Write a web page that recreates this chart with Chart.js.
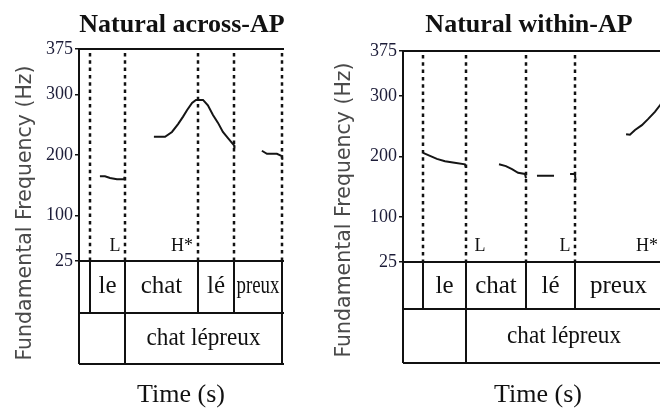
<!DOCTYPE html>
<html><head><meta charset="utf-8">
<script src="https://cdn.jsdelivr.net/npm/chart.js@4.4.0/dist/chart.umd.min.js"></script>
<style>
html,body{margin:0;padding:0;background:#fff;}
#wrap{position:relative;width:660px;height:408px;overflow:hidden;background:#fff;}
#c1{position:absolute;left:0;top:0;}
#c2{position:absolute;left:330px;top:0;}
</style></head><body>
<div id="wrap">
<canvas id="c1" width="330" height="408"></canvas>
<canvas id="c2" width="335" height="408"></canvas>
</div>
<script>
// ---------- data ----------
const yTicks = [25, 100, 200, 300, 375];

// Panel 1: Natural across-AP (time in s)
const acrossTitle = 'Natural across-AP';
const acrossBounds = [0.054, 0.227, 0.586, 0.764, 1.000];
const acrossWords = ['le', 'chat', 'lé', 'preux'];
const acrossPhrase = 'chat lépreux';
const acrossTones = ['L', 'H*'];
const acrossToneTimes = [0.175, 0.505];
const acrossT  = [0.103,0.128,0.153,0.187,0.222,0.224, 0.30,
                  0.369,0.424,0.458,0.488,0.512,0.532,0.557,0.576,0.611,0.635,0.660,0.685,0.709,0.734,0.764,0.766, 0.83,
                  0.901,0.926,0.975,1.000,1.002];
const acrossHz = [165,165,162,160,160,164, null,
                  230,230,238,251,263,274,286,291,291,282,266,253,238,228,216,211, null,
                  207,202,202,198,192];

// Panel 2: Natural within-AP
const withinTitle = 'Natural within-AP';
const withinBounds = [0.099, 0.309, 0.604, 0.847, 1.276];
const withinWords = ['le', 'chat', 'lé', 'preux'];
const withinPhrase = 'chat lépreux';
const withinTones = ['L', 'L', 'H*'];
const withinToneTimes = [0.379, 0.796, 1.200];
const withinT  = [0.099,0.133,0.167,0.207,0.246,0.305,0.310, 0.40,
                  0.473,0.507,0.537,0.567,0.601,0.606, 0.63,
                  0.660,0.744, 0.78,
                  0.823,0.847,0.850, 0.97,
                  1.099,1.118,1.143,1.177,1.207,1.241,1.266,1.276];
const withinHz = [206,201,196,192,190,187,182, null,
                  187,184,179,173,171,164, null,
                  168,168, null,
                  171,171,161, null,
                  237,236,244,252,262,274,285,290];

// ---------- drawing ----------
function makePanel(canvas, d, lay) {
  const points = d.T.map((t, i) => ({x: t, y: d.Hz[i]}));
  const panelPlugin = {
    id: 'panel',
    beforeDatasetsDraw(chart) {
      const ctx = chart.ctx, xs = chart.scales.x, a = chart.chartArea;
      ctx.save();
      ctx.strokeStyle = '#111'; ctx.lineWidth = 2.5; ctx.setLineDash([3.5, 3.8]);
      d.bounds.forEach(b => {
        const px = Math.round(xs.getPixelForValue(b));
        ctx.beginPath(); ctx.moveTo(px, a.top + 4); ctx.lineTo(px, a.bottom); ctx.stroke();
      });
      ctx.restore();
    },
    afterDraw(chart) {
      const ctx = chart.ctx, xs = chart.scales.x, a = chart.chartArea;
      const L = a.left, R = a.right;
      const px = v => Math.round(xs.getPixelForValue(v));
      ctx.save();
      ctx.strokeStyle = '#111'; ctx.lineWidth = 2; ctx.setLineDash([]);
      const line = (x1, y1, x2, y2) => { ctx.beginPath(); ctx.moveTo(x1, y1); ctx.lineTo(x2, y2); ctx.stroke(); };
      // frame
      line(L, a.top - 1, L, lay.row2);
      line(L, a.top, R, a.top);
      line(L, a.bottom, R, a.bottom);
      line(L, lay.row1, R, lay.row1);
      line(L, lay.row2, R, lay.row2);
      d.bounds.forEach(b => line(px(b), a.bottom, px(b), lay.row1));
      line(px(d.bounds[1]), lay.row1, px(d.bounds[1]), lay.row2);
      line(px(d.bounds[d.bounds.length - 1]), lay.row1, px(d.bounds[d.bounds.length - 1]), lay.row2);
      // words
      ctx.fillStyle = '#111';
      ctx.textAlign = 'center'; ctx.textBaseline = 'alphabetic';
      ctx.font = '25px "Liberation Serif", serif';
      d.words.forEach((w, i) => {
        const x1 = px(d.bounds[i]), x2 = px(d.bounds[i + 1]);
        ctx.fillText(w, (x1 + x2) / 2, lay.word1, x2 - x1 - 5);
      });
      const p1 = px(d.bounds[1]), p2 = px(d.bounds[d.bounds.length - 1]);
      ctx.fillText(d.phrase, (p1 + p2) / 2, lay.word2, 114);
      // tones
      ctx.font = '18px "Liberation Serif", serif';
      d.tones.forEach((t, i) => ctx.fillText(t, px(d.toneTimes[i]), lay.tone));
      // title
      ctx.font = 'bold 26px "Liberation Serif", serif';
      ctx.fillText(d.title, lay.titleX, 32);
      // x title
      ctx.font = '26px "Liberation Serif", serif';
      ctx.fillText('Time (s)', lay.xTitleX, 402);
      // y title
      ctx.save();
      ctx.translate(lay.yTitleX, lay.yTitleY);
      ctx.rotate(-Math.PI / 2);
      ctx.fillStyle = '#4a4a4a';
      ctx.font = '20.5px "DejaVu Sans", sans-serif';
      ctx.fillText('Fundamental Frequency (Hz)', 0, 0);
      ctx.restore();
      ctx.restore();
    }
  };
  return new Chart(canvas, {
    type: 'line',
    data: { datasets: [{ data: points, borderColor: '#151515', borderWidth: 2, pointRadius: 0,
                         tension: 0, spanGaps: false, fill: false }] },
    options: {
      responsive: false, animation: false,
      layout: { padding: { left: 0, top: lay.top, right: canvas.width - lay.right, bottom: 408 - lay.bottom } },
      plugins: { legend: { display: false }, tooltip: { enabled: false }, title: { display: false } },
      scales: {
        x: { type: 'linear', min: 0, max: lay.xmax, display: false },
        y: {
          type: 'linear', min: 25, max: 375,
          afterFit: s => { s.width = lay.left; },
          afterBuildTicks: s => { s.ticks = yTicks.map(v => ({ value: v })); },
          ticks: { color: '#1c1c38', font: { family: 'Liberation Serif', size: 18 }, padding: 2 },
          grid: { display: true, drawOnChartArea: false, drawTicks: true, tickLength: 4, color: '#111', lineWidth: 1.5 },
          border: { display: false }
        }
      }
    },
    plugins: [panelPlugin]
  });
}

makePanel(document.getElementById('c1'),
  { title: acrossTitle, bounds: acrossBounds, words: acrossWords, phrase: acrossPhrase,
    tones: acrossTones, toneTimes: acrossToneTimes, T: acrossT, Hz: acrossHz },
  { left: 79, right: 284, top: 49, bottom: 261, xmax: 1.01, row1: 313, row2: 364,
    word1: 293, word2: 345, tone: 251, titleX: 182, xTitleX: 181, yTitleX: 31, yTitleY: 213 });

makePanel(document.getElementById('c2'),
  { title: withinTitle, bounds: withinBounds, words: withinWords, phrase: withinPhrase,
    tones: withinTones, toneTimes: withinToneTimes, T: withinT, Hz: withinHz },
  { left: 73, right: 332, top: 51, bottom: 262, xmax: 1.276, row1: 309, row2: 363,
    word1: 292.5, word2: 343, tone: 251, titleX: 199, xTitleX: 208, yTitleX: 20, yTitleY: 210 });
</script>
</body></html>
